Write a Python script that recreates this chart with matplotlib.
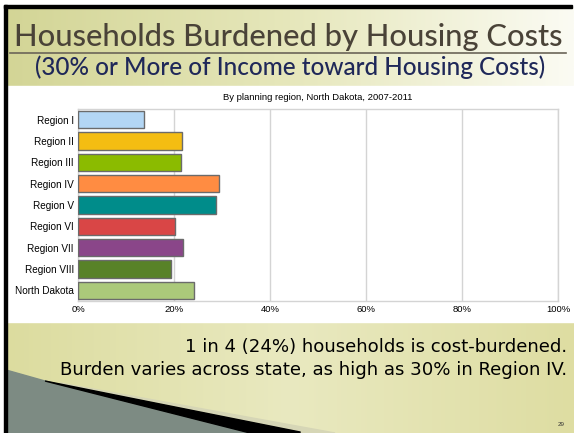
import matplotlib.pyplot as plt
import numpy as np
from matplotlib.patches import Polygon, Rectangle
from matplotlib.colors import LinearSegmentedColormap

# Daten
regions = ["Region I", "Region II", "Region III", "Region IV", "Region V",
           "Region VI", "Region VII", "Region VIII", "North Dakota"]
burden = [13.8, 21.7, 21.4, 29.4, 28.8, 20.3, 21.9, 19.4, 24.2]
colors = ["#b3d6f4", "#f4bd12", "#8bbb00", "#ff8c42", "#008c8a",
          "#d94646", "#8a4689", "#588228", "#abc97a"]
xticks = [0, 20, 40, 60, 80, 100]
xticklabels = ["0%", "20%", "40%", "60%", "80%", "100%"]

W, H = 574, 433
fig = plt.figure(figsize=(W / 100, H / 100), dpi=100)

# Hintergrund der Folie (Pixelkoordinaten)
bg = fig.add_axes([0, 0, 1, 1])
bg.set_xlim(0, W)
bg.set_ylim(H, 0)
bg.axis("off")

top_cmap = LinearSegmentedColormap.from_list("top", ["#d3d596", "#e6e7bb", "#fbfbf3"])
bot_cmap = LinearSegmentedColormap.from_list("bot", ["#dcdc9f", "#e9e9c0", "#dedda2"])
grad = np.linspace(0, 1, 256).reshape(1, -1)
bg.imshow(grad, cmap=top_cmap, extent=[6, W, 86, 7], aspect="auto", zorder=0)
bg.imshow(grad, cmap=bot_cmap, extent=[6, W, H, 322], aspect="auto", zorder=0)
bg.add_patch(Rectangle((6, 86), W - 6, 236, color="white", zorder=0))

# schwarze Rahmenlinien
bg.add_patch(Rectangle((4, 5), W - 6, 2.5, color="black", zorder=2))
bg.add_patch(Rectangle((4, 5), 3, H - 5, color="black", zorder=2))

# Dekoration unten links
bg.add_patch(Polygon([[60, 383], [335, H], [290, H]], closed=True,
                     color="#d6d6b6", zorder=1))
bg.add_patch(Polygon([[6, 370], [45, 381], [250, H], [6, H]], closed=True,
                     color="#7d8b83", zorder=1))
bg.add_patch(Polygon([[45, 381], [300, 432], [300, H], [250, H]], closed=True,
                     color="black", zorder=1))

# Texte
bg.text(288, 46, "Households Burdened by Housing Costs", ha="center",
        va="baseline", fontsize=22.2, family="Lato", fontweight="medium",
        color="#4a4338")
bg.plot([10, 566], [53, 53], color="#6b6558", lw=1.2)
bg.text(290, 75, "(30% or More of Income toward Housing Costs)", ha="center",
        va="baseline", fontsize=17.5, family="Lato", fontweight="medium",
        color="#1f2859")
bg.text(318, 97, "By planning region, North Dakota, 2007-2011", ha="center",
        va="center", fontsize=6.8, family="Liberation Sans", color="black")
bg.text(567, 347, "1 in 4 (24%) households is cost-burdened.", ha="right",
        va="center", fontsize=13.1, family="DejaVu Sans", color="black")
bg.text(567, 370, "Burden varies across state, as high as 30% in Region IV.",
        ha="right", va="center", fontsize=13.1, family="DejaVu Sans", color="black")
bg.text(561, 424, "29", ha="center", va="center", fontsize=4.5,
        family="Liberation Sans", color="#333333")

# Diagramm
ax = fig.add_axes([78 / W, 1 - 301 / H, 480 / W, 192 / H])
y = np.arange(len(regions))
ax.barh(y, burden, height=0.82, color=colors, edgecolor="#6b6b6b", linewidth=1.0,
        zorder=3)
ax.set_xlim(0, 100)
ax.set_ylim(len(regions) - 0.5, -0.5)
ax.set_yticks(y)
ax.set_yticklabels(regions, family="Liberation Sans", fontsize=7.2)
ax.set_xticks(xticks)
ax.set_xticklabels(xticklabels, family="Liberation Sans", fontsize=6.8)
ax.tick_params(length=0, pad=3)
ax.grid(axis="x", color="#d4d4d4", lw=1.0, zorder=0)
for s in ax.spines.values():
    s.set_color("#d4d4d4")
    s.set_linewidth(1.0)
ax.set_facecolor("white")

fig.savefig("out.png", dpi=100)
